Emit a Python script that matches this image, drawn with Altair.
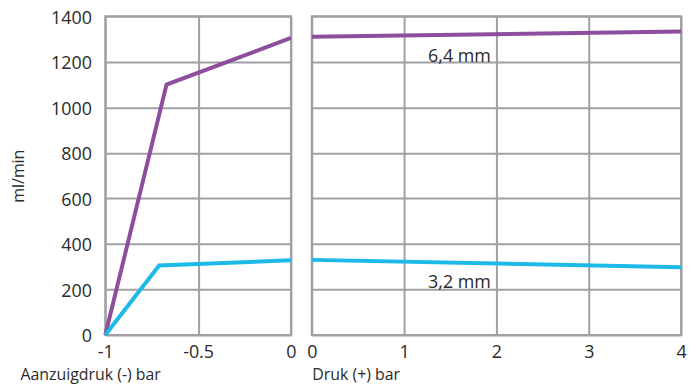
import altair as alt
import pandas as pd

# --- data ---
series = ["6,4 mm", "3,2 mm"]
colors = ["#8E4E9E", "#1DB9E9"]

left_x_purple = [-1.0, -0.67, 0.0]
left_y_purple = [0, 1100, 1305]
left_x_blue = [-1.0, -0.71, 0.0]
left_y_blue = [0, 305, 328]

right_x = [0, 4]
right_y_purple = [1310, 1333]
right_y_blue = [330, 298]

label_x = [1.6, 1.6]
label_y = [1222, 228]

y_ticks = [0, 200, 400, 600, 800, 1000, 1200, 1400]
left_ticks = [-1, -0.5, 0]
right_ticks = [0, 1, 2, 3, 4]

FONT = "Open Sans"
GRID = "#A0A0A4"
TXT = "#2a2a2a"

left_df = pd.concat(
    [
        pd.DataFrame({"x": left_x_purple, "y": left_y_purple, "s": series[0]}),
        pd.DataFrame({"x": left_x_blue, "y": left_y_blue, "s": series[1]}),
    ],
    ignore_index=True,
)
right_df = pd.concat(
    [
        pd.DataFrame({"x": right_x, "y": right_y_purple, "s": series[0]}),
        pd.DataFrame({"x": right_x, "y": right_y_blue, "s": series[1]}),
    ],
    ignore_index=True,
)
lab_df = pd.DataFrame({"x": label_x, "y": label_y, "t": series})

color = alt.Color("s:N", scale=alt.Scale(domain=series, range=colors), legend=None)

H = 321

y_left = alt.Y(
    "y:Q",
    scale=alt.Scale(domain=[0, 1400], nice=False),
    axis=alt.Axis(
        values=y_ticks, format="d", title="ml/min", labelFontSize=18,
        titleFontSize=16, labelPadding=14, titlePadding=24, labelOffset=2,
        titleFontWeight="normal",
    ),
)
y_right = alt.Y(
    "y:Q",
    scale=alt.Scale(domain=[0, 1400], nice=False),
    axis=alt.Axis(values=y_ticks, labels=False, title=None),
)

left = alt.Chart(left_df).mark_line(strokeWidth=4).encode(
    x=alt.X(
        "x:Q",
        scale=alt.Scale(domain=[-1, 0], nice=False),
        axis=alt.Axis(
            values=left_ticks, labelExpr="'' + datum.value",
            title="Aanzuigdruk (-) bar",
            labelFontSize=18, titleFontSize=16, titleFontWeight="normal",
            labelPadding=9, titleAnchor="start", titleX=-86, titleY=45,
            titleBaseline="alphabetic", labelFlush=False,
        ),
    ),
    y=y_left,
    color=color,
    detail="s:N",
).properties(width=187, height=H)

right_lines = alt.Chart(right_df).mark_line(strokeWidth=4).encode(
    x=alt.X(
        "x:Q",
        scale=alt.Scale(domain=[0, 4], nice=False),
        axis=alt.Axis(
            values=right_ticks, format="d", title="Druk (+) bar",
            labelFontSize=18, titleFontSize=16, titleFontWeight="normal",
            labelPadding=9, titleAnchor="start", titleX=0, titleY=45,
            titleBaseline="alphabetic", labelFlush=False,
        ),
    ),
    y=y_right,
    color=color,
    detail="s:N",
)
right_text = alt.Chart(lab_df).mark_text(
    fontSize=18, font=FONT, color=TXT
).encode(x="x:Q", y="y:Q", text="t:N")

right = alt.layer(right_lines, right_text).properties(width=372, height=H)

chart = (
    alt.hconcat(left, right, spacing=21, bounds="flush")
    .properties(padding={"left": 1, "top": -1, "right": 0, "bottom": 0})
    .configure(font=FONT)
    .configure_view(stroke=GRID, strokeWidth=2)
    .configure_axis(
        grid=True, gridColor=GRID, gridWidth=2, gridOpacity=1,
        domain=False, ticks=False, labelColor=TXT, titleColor=TXT,
        labelFont=FONT, titleFont=FONT,
    )
)

chart.save("out.html", embed_options={"renderer": "svg", "actions": False})
